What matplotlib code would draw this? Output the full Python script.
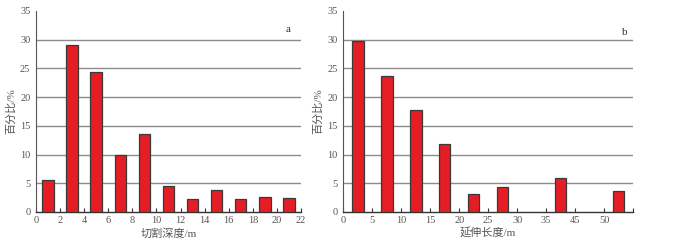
import matplotlib
matplotlib.use("Agg")
import matplotlib.pyplot as plt

plt.rcParams['font.family'] = ['Liberation Serif', 'Noto Sans CJK SC', 'DejaVu Sans']

# Panel a: cutting depth
depth_centers = [1, 3, 5, 7, 9, 11, 13, 15, 17, 19, 21]
depth_pct = [5.5, 29.0, 24.4, 9.9, 13.6, 4.5, 2.2, 3.75, 2.2, 2.55, 2.45]
depth_ticks = [0, 2, 4, 6, 8, 10, 12, 14, 16, 18, 20, 22]
depth_ticklabels = ['0', '2', '4', '6', '8', '10', '12', '14', '16', '18', '20', '22']

# Panel b: extension length
length_centers = [2.5, 7.5, 12.5, 17.5, 22.5, 27.5, 37.5, 47.5]
length_pct = [29.7, 23.6, 17.8, 11.8, 3.2, 4.3, 5.9, 3.6]
length_ticks = [0, 5, 10, 15, 20, 25, 30, 35, 40, 45, 50]
length_ticklabels = ['0', '5', '10', '15', '20', '25', '30', '35', '45', '50', '']

y_ticks = [0, 5, 10, 15, 20, 25, 30, 35]
grid_levels = [5, 10, 15, 20, 25, 30]

fig = plt.figure(figsize=(6.75, 2.4), dpi=100)
ax_a = fig.add_axes([0.0533, 0.1167, 0.3926, 0.838])
ax_b = fig.add_axes([0.5086, 0.1167, 0.4292, 0.838])

bar_color = '#e51d24'
edge_color = '#3a3a3a'
label_color = '#555555'

def style(ax, xlim, xticks, xticklabels, xlabel):
    ax.set_xlim(*xlim)
    ax.set_ylim(0, 35)
    for g in grid_levels:
        ax.axhline(g, color='#8c8c8c', lw=1.0, zorder=0)
    ax.set_yticks(y_ticks)
    ax.set_yticklabels([str(v) for v in y_ticks], color=label_color, fontsize=7.5)
    ax.set_xticks(xticks)
    ax.set_xticklabels(xticklabels, color=label_color, fontsize=7.5)
    ax.tick_params(axis='y', length=0, pad=4)
    ax.tick_params(axis='x', direction='in', length=3, width=0.8, color='#333333', pad=3)
    for s in ['top', 'right']:
        ax.spines[s].set_visible(False)
    ax.spines['left'].set_color('#555555')
    ax.spines['bottom'].set_color('#333333')
    ax.spines['left'].set_linewidth(0.8)
    ax.spines['bottom'].set_linewidth(1.0)
    ax.set_xlabel(xlabel, fontsize=8, color=label_color, labelpad=2)
    ax.set_ylabel('百分比/%', fontsize=8, color=label_color, labelpad=3)

ax_a.bar(depth_centers, depth_pct, width=0.95, color=bar_color, edgecolor=edge_color, linewidth=0.9, zorder=3)
style(ax_a, (0, 22), depth_ticks, depth_ticklabels, '切割深度/m')
ax_a.text(20.9, 31.8, 'a', fontsize=8, color='#333333', ha='center', va='center')

ax_b.bar(length_centers, length_pct, width=2.0, color=bar_color, edgecolor=edge_color, linewidth=0.9, zorder=3)
style(ax_b, (0, 50), length_ticks, length_ticklabels, '延伸长度/m')
ax_b.text(48.6, 31.3, 'b', fontsize=8, color='#333333', ha='center', va='center')

fig.savefig('out.png', dpi=100)
